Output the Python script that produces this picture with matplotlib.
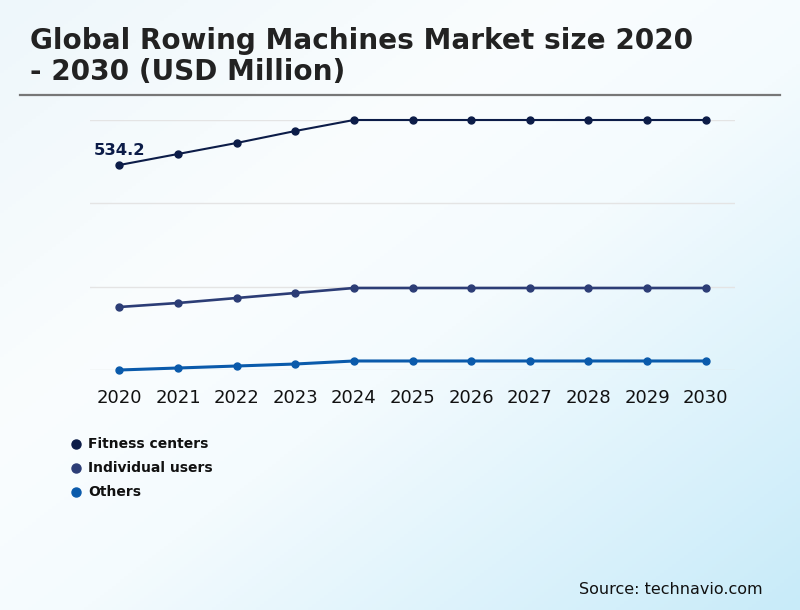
import matplotlib
matplotlib.use("Agg")
import matplotlib.pyplot as plt
from matplotlib.colors import LinearSegmentedColormap
import numpy as np

plt.rcParams['font.family'] = ['DejaVu Sans']

# data (no y scale shown, units are USD million)
years = ["2020", "2021", "2022", "2023", "2024", "2025", "2026", "2027", "2028", "2029", "2030"]
fitness_centers = [534.2, 562.9, 591.6, 622.8, 651.5, 651.5, 651.5, 651.5, 651.5, 651.5, 651.5]
individual_users = [164.2, 174.6, 187.6, 200.7, 213.7, 213.7, 213.7, 213.7, 213.7, 213.7, 213.7]
others = [0.0, 5.2, 10.4, 15.6, 23.5, 23.5, 23.5, 23.5, 23.5, 23.5, 23.5]

series_names = ["Fitness centers", "Individual users", "Others"]
series_values = [fitness_centers, individual_users, others]
series_colors = ["#0c1c48", "#2c3d76", "#0a5aab"]
series_widths = [1.5, 1.9, 2.2]

fig = plt.figure(figsize=(8, 6.1), dpi=100)

# background gradient
bg = fig.add_axes([0, 0, 1, 1], zorder=-10)
gx, gy = np.meshgrid(np.linspace(0, 1, 200), np.linspace(0, 1, 200))
t = (gx + gy) / 2
cmap = LinearSegmentedColormap.from_list("bg", [(0, "#eef7fb"), (0.35, "#fafdfe"), (0.55, "#f4fbfe"), (1, "#c8ebf9")])
bg.imshow(t, cmap=cmap, extent=[0, 1, 0, 1], aspect="auto", origin="upper")
bg.axis("off")

# title + rule
fig.text(30 / 800, 1 - 27 / 610, "Global Rowing Machines Market size 2020\n- 2030 (USD Million)",
         fontsize=20.1, fontweight="bold", color="#222222", va="top", ha="left",
         linespacing=1.13)
fig.add_artist(plt.Line2D([20 / 800, 780 / 800], [1 - 95 / 610, 1 - 95 / 610],
                          color="#777777", linewidth=1.6))

ax = fig.add_axes([90 / 800, 1 - 370 / 610, 645 / 800, 250 / 610])
ax.patch.set_alpha(0)
x = np.arange(len(years))
for name, vals, col, lw in zip(series_names, series_values, series_colors, series_widths):
    ax.plot(x, vals, color=col, linewidth=lw, marker="o", markersize=5,
            clip_on=False, zorder=3, label=name)

lo = min(min(v) for v in series_values)
hi = max(max(v) for v in series_values)
ax.set_ylim(lo, hi)
ax.set_xlim(-0.5, len(years) - 0.5)
ax.set_yticks(np.linspace(lo, hi, 4))
ax.yaxis.grid(True, color="#e4e4e4", linewidth=1)
ax.set_yticklabels([])
ax.tick_params(axis="y", length=0)
ax.set_xticks(x)
ax.set_xticklabels(years, fontsize=13, color="#111111")
ax.tick_params(axis="x", length=0, pad=14)
for s in ax.spines.values():
    s.set_visible(False)

ax.annotate(f"{fitness_centers[0]:.1f}", (x[0], fitness_centers[0]), xytext=(-18.5, 5),
            textcoords="offset points", fontsize=11.8, fontweight="bold",
            color=series_colors[0], ha="left", va="bottom")

# legend drawn by hand to match the stacked dots
for i, (name, col) in enumerate(zip(series_names, series_colors)):
    yy = 1 - (444 + 24 * i) / 610
    fig.add_artist(plt.Line2D([76 / 800], [yy], marker="o", markersize=6.5,
                              color=col, linestyle="none"))
    fig.text(88 / 800, yy, name, fontsize=10, fontweight="bold", color="#111111",
             va="center", ha="left")

fig.text(763 / 800, 1 - 589 / 610, "Source: technavio.com", fontsize=11.5,
         color="#111111", ha="right", va="center")

fig.savefig("out.png", dpi=100)
